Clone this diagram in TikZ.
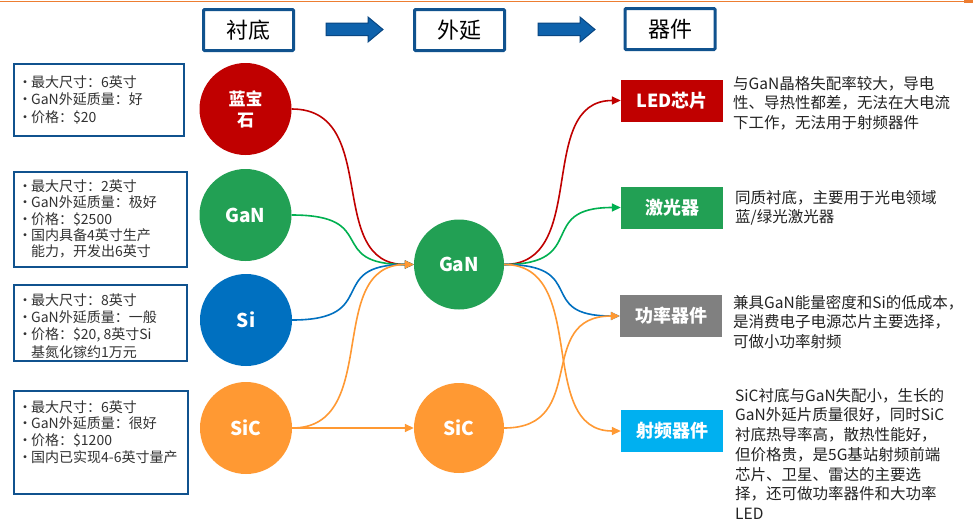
\documentclass[tikz,border=0pt]{standalone}
\usepackage{fontspec}
\setmainfont{Noto Sans CJK SC}
\usetikzlibrary{arrows.meta}
\definecolor{cRed}{RGB}{192,0,0}
\definecolor{cGreen}{RGB}{34,160,84}
\definecolor{cLineGreen}{RGB}{0,176,80}
\definecolor{cBlue}{RGB}{0,112,192}
\definecolor{cOrange}{RGB}{255,153,51}
\definecolor{cGray}{RGB}{128,128,128}
\definecolor{cSky}{RGB}{0,176,240}
\definecolor{cNavy}{RGB}{16,82,142}
\definecolor{cArrowFill}{RGB}{14,98,172}
\definecolor{cArrowLine}{RGB}{8,70,130}
\definecolor{cText}{RGB}{50,50,50}
\definecolor{cDesc}{RGB}{35,35,35}
\definecolor{cTop}{RGB}{237,125,49}
\newcommand{\bpt}{\makebox[12pt][c]{•}}
\newcommand{\fl}{\rule{0pt}{1em}}
\begin{document}
\begin{tikzpicture}[x=1pt,y=-1pt,
  hdr/.style={draw=cNavy,line width=3pt,rounded corners=1pt,minimum width=90pt,minimum height=41pt,inner sep=0pt,font=\fontsize{22}{24}\selectfont},
  blockarrow/.style={fill=cArrowFill,draw=cArrowLine,line width=1pt},
  infobox/.style={draw=cNavy,line width=2pt,minimum height=#1,inner sep=0pt},
  infotext/.style={anchor=north west,inner sep=0pt,align=left,text=cText},
  contline/.style={anchor=base west,inner sep=0pt,text=cText,font=\fontsize{14}{16}\selectfont},
  circ/.style={circle,fill=#1,minimum size=92pt,inner sep=0pt,text=white,font=\bfseries\fontsize{19}{21}\selectfont,align=center},
  appbox/.style={fill=#1,minimum width=102pt,minimum height=42pt,inner sep=0pt,text=white,font=\bfseries\fontsize{18}{20}\selectfont},
  desc/.style={anchor=north west,inner sep=0pt,align=left,text=cDesc,font=\fontsize{15.5}{19.7}\selectfont},
  link/.style={draw=#1,line width=1.6pt,-{Triangle[length=9pt,width=8pt]}}
]
\useasboundingbox (0,0) rectangle (973,522);
\fill[white] (0,0) rectangle (973,522);
% top rule
\draw[cTop,line width=1.2pt] (0,1.2) -- (973,1.2);
\fill[cTop] (964,0.4) rectangle (973,3);

% headers
\node[hdr] (h1) at (248.5,30) {衬底};
\node[hdr] (h2) at (459.5,30) {外延};
\node[hdr] (h3) at (670,29) {器件};
\foreach \sx in {0,212}{
  \draw[blockarrow,xshift=\sx] (326,23) -- (368,23) -- (368,17) -- (383,29.5) -- (368,42) -- (368,35.5) -- (326,35.5) -- cycle;
}

% info boxes
\node[infobox=72pt,minimum width=170pt] (b1) at (99,100) {};
\node[infobox=95pt,minimum width=173pt] (b2) at (100.5,219.5) {};
\node[infobox=76pt,minimum width=173pt] (b3) at (100.5,323) {};
\node[infobox=103pt,minimum width=174pt] (b4) at (101,442.5) {};

\node[infotext,font=\fontsize{14}{17.5}\selectfont] (t1) at (19,73) {\fl\bpt 最大尺寸：6英寸\\\bpt GaN外延质量：好\\\bpt 价格：\$20};
\node[infotext,font=\fontsize{14}{16.4}\selectfont] (t2) at (19,177) {\fl\bpt 最大尺寸：2英寸\\\bpt GaN外延质量：极好\\\bpt 价格：\$2500\\\bpt 国内具备4英寸生产};
\node[contline] (t2b) at (31,256.5) {能力，开发出6英寸};
\node[infotext,font=\fontsize{14}{17.3}\selectfont] (t3) at (19,291) {\fl\bpt 最大尺寸：8英寸\\\bpt GaN外延质量：一般\\\bpt 价格：\$20, 8英寸Si};
\node[contline] (t3b) at (31,357) {基氮化镓约1万元};
\node[infotext,font=\fontsize{14}{16.7}\selectfont] (t4) at (19,398) {\fl\bpt 最大尺寸：6英寸\\\bpt GaN外延质量：很好\\\bpt 价格：\$1200\\\bpt 国内已实现4-6英寸量产};

% substrate circles
\node[circ=cRed,font=\bfseries\fontsize{17}{21}\selectfont] (sap) at (245.5,109) {蓝宝\\石};
\node[circ=cGreen] (ganL) at (245.5,215) {GaN};
\node[circ=cBlue] (siL) at (246,320) {Si};
\node[circ=cOrange] (sicL) at (246,428) {SiC};

% epitaxy circles
\node[circ=cGreen,minimum size=90pt] (gan) at (459,264.5) {GaN};
\node[circ=cOrange,minimum size=90pt] (sic) at (459,428) {SiC};

% device boxes
\node[appbox=cRed] (led) at (672,100.5) {LED芯片};
\node[appbox=cGreen] (laser) at (672,207.5) {激光器};
\node[appbox=cGray] (power) at (671,316) {功率器件};
\node[appbox=cSky] (rf) at (672,431) {射频器件};

% descriptions
\node[desc] (d1) at (733,73.5) {\fl 与GaN晶格失配率较大，导电\\性、导热性都差，无法在大电流\\下工作，无法用于射频器件};
\node[desc] (d2) at (735,187.5) {\fl 同质衬底，主要用于光电领域\\蓝/绿光激光器};
\node[desc] (d3) at (733,292.5) {\fl 兼具GaN能量密度和Si的低成本，\\是消费电子电源芯片主要选择，\\可做小功率射频};
\node[desc] (d4) at (735,385.5) {\fl SiC衬底与GaN失配小，生长的\\GaN外延片质量很好，同时SiC\\衬底热导率高，散热性能好，\\但价格贵，是5G基站射频前端\\芯片、卫星、雷达的主要选\\择，还可做功率器件和大功率\\LED};

% connectors
\draw[link=cRed] (sap.east) .. controls +(90,0) and +(-90,0) .. (gan.west);
\draw[link=cLineGreen] (ganL.east) .. controls +(90,0) and +(-90,0) .. (gan.west);
\draw[link=cBlue] (siL.east) .. controls +(90,0) and +(-90,0) .. (gan.west);
\draw[link=cRed] (gan.east) .. controls +(86,0) and +(-86,0) .. (led.west);
\draw[link=cLineGreen] (gan.east) .. controls +(86,0) and +(-86,0) .. (laser.west);
\draw[link=cBlue] (gan.east) .. controls +(86,0) and +(-86,0) .. (power.west);
\draw[link=cOrange] (sicL.east) .. controls +(90,0) and +(-90,0) .. (gan.west);
\draw[link=cOrange] (sicL.east) -- (sic.west);
\draw[link=cOrange] (gan.east) .. controls +(86,0) and +(-86,0) .. (rf.west);
\draw[link=cOrange] (sic.east) .. controls +(86,0) and +(-86,0) .. (power.west);
\end{tikzpicture}
\end{document}
